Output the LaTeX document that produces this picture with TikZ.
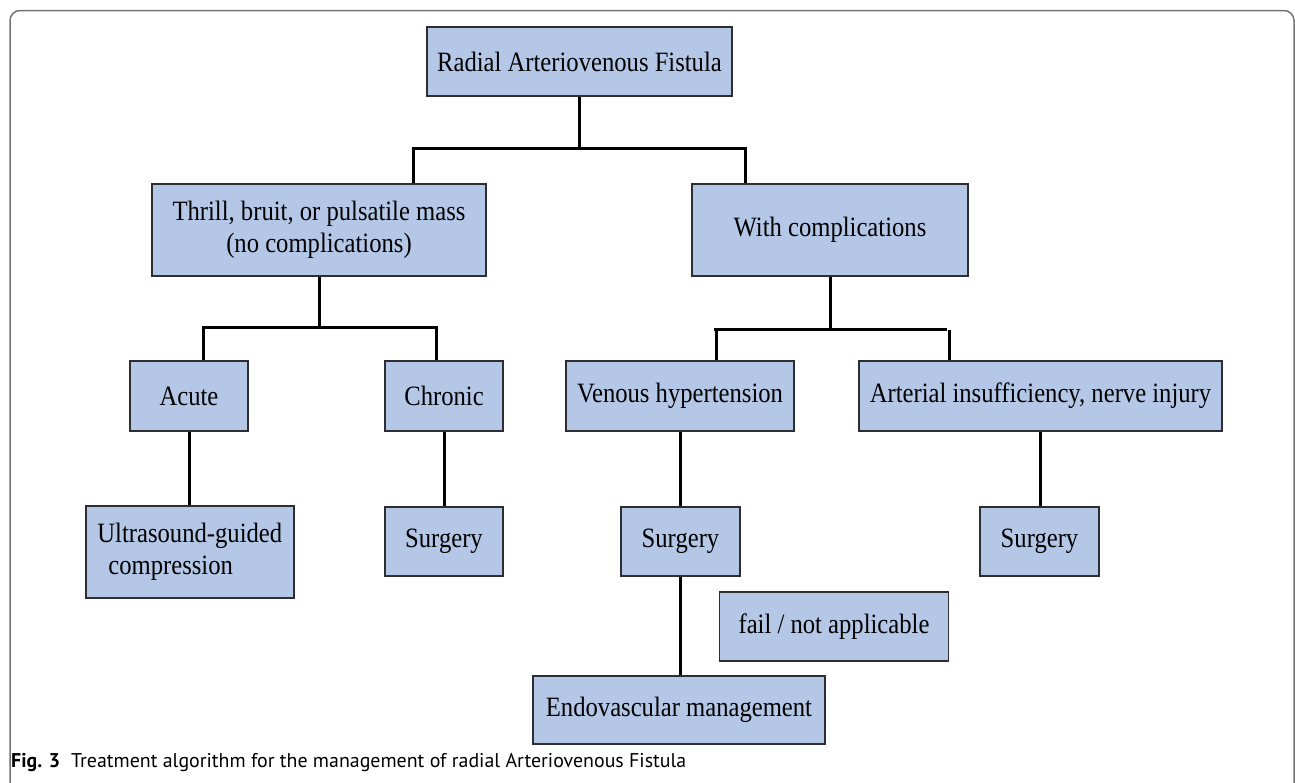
\documentclass[tikz,border=0pt]{standalone}
\usepackage{fontspec}
\newfontfamily\boxfont[FakeStretch=0.88]{Liberation Serif}
\newfontfamily\capfont{PT Sans}
\definecolor{boxfill}{RGB}{180,199,231}
\definecolor{boxline}{RGB}{45,45,50}
\begin{document}
\begin{tikzpicture}[x=1pt,y=-1pt,
  box/.style={draw=boxline, line width=1.8pt, fill=boxfill, inner sep=0pt,
    minimum height=69pt, align=center,
    font=\boxfont\fontsize{28}{32}\selectfont},
  link/.style={line width=3pt, black}]
\useasboundingbox (0,0) rectangle (1295,782);
\clip (0,0) rectangle (1295,782);
\draw[gray!90!black, line width=1.5pt, rounded corners=10pt] (10,10.5) rectangle (1294,830);

\node[box, minimum width=305pt] (root) at (579.5,61.5) {Radial Arteriovenous Fistula};
\node[box, minimum width=334pt, minimum height=92pt] (thrill) at (319,230) {Thrill, bruit, or pulsatile mass\\(no complications)};
\node[box, minimum width=276pt, minimum height=92pt] (withc) at (830,230) {With complications};
\node[box, minimum width=118pt, minimum height=70pt] (acute) at (189,396) {Acute};
\node[box, minimum width=118pt, minimum height=70pt] (chronic) at (444,396) {Chronic};
\node[box, minimum width=228pt, minimum height=70pt] (venous) at (680,396) {Venous hypertension};
\node[box, minimum width=363pt, minimum height=70pt] (arterial) at (1040.5,396) {Arterial insufficiency, nerve injury};
\node[box, minimum width=208pt, minimum height=92pt, align=left] (us) at (189.8,552) {Ultrasound-guided\\\hspace*{11pt}compression};
\node[box, minimum width=118pt] (surg1) at (444,541.5) {Surgery};
\node[box, minimum width=119pt] (surg2) at (680.5,541.5) {Surgery};
\node[box, minimum width=119pt] (surg3) at (1039.5,541.5) {Surgery};
\node[box, minimum width=229pt] (fail) at (834,626.5) {fail / not applicable};
\node[box, minimum width=292pt, minimum height=68pt] (endo) at (679,710) {Endovascular management};

% level 1 fork
\coordinate (aL) at (413,148);
\coordinate (aR) at (745,148);
\draw[link] (root.south) -- (root.south |- aL);
\draw[link] (aL |- thrill.north) -- (aL) -- (aR) -- (aR |- withc.north);

% left fork
\coordinate (bL) at (203,327);
\coordinate (bR) at (436,327);
\draw[link] (thrill.south) -- (thrill.south |- bL);
\draw[link] (bL |- acute.north) -- (bL) -- (bR) -- (bR |- chronic.north);

% right fork
\coordinate (cL) at (714,329);
\coordinate (cR) at (947,329);
\draw[link] (withc.south) -- (withc.south |- cL);
\draw[link] (cL) -- (cR);
\draw[link] ([xshift=2pt]cL) -- ([xshift=2pt]cL |- venous.north);
\draw[link] ([xshift=2pt,yshift=-1pt]cR) -- ([xshift=2pt]cR |- arterial.north);

% verticals
\draw[link] (acute.south) -- (acute.south |- us.north);
\draw[link] (chronic.south) -- (surg1.north);
\draw[link] (venous.south) -- (venous.south |- surg2.north);
\draw[link] (arterial.south) -- (arterial.south |- surg3.north);
\draw[link] (surg2.south) -- (surg2.south |- endo.north);

\node[anchor=west, inner sep=0pt, font=\capfont\fontsize{19.9}{23}\selectfont] (cap) at (11,763)
  {\textbf{Fig. 3}\hspace{0.55em}Treatment algorithm for the management of radial Arteriovenous Fistula};
\end{tikzpicture}
\end{document}
